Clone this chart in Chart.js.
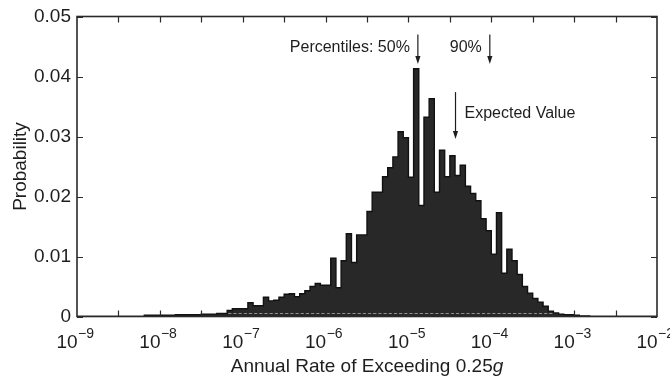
<!DOCTYPE html>
<html><head><meta charset="utf-8">
<script src="https://cdn.jsdelivr.net/npm/chart.js@4"></script>
<style>html,body{margin:0;padding:0;background:#fff}#wrap{width:670px;height:379px;position:relative}</style>
</head><body><div id="wrap"><canvas id="c" width="670" height="379"></canvas></div>
<script>
// ---- data ----
const binStartExp = -9;        // log10 of first bin's left edge
const binWidthExp = 0.0625;    // bin width in decades
const binEndExp = -2;
const probabilities = [
  0,0,0,0,0,0,0,0,0,0,0,0,0,0.0002,0.0002,0.0002,
  0.0002,0.0002,0.0002,0.0003,0.0003,0.0003,0.0003,0.0003,0.0004,0.0004,0.0004,0.0005,0.0005,0.001,0.0013,0.0013,
  0.0013,0.0023,0.0018,0.0018,0.0032,0.0026,0.0027,0.0032,0.0037,0.0038,0.0033,0.0038,0.0043,0.005,0.0055,0.0052,
  0.0052,0.0097,0.0048,0.0093,0.0138,0.009,0.0136,0.0136,0.0175,0.0207,0.0207,0.0233,0.0248,0.0266,0.0308,0.0298,
  0.0232,0.0413,0.0185,0.0332,0.0363,0.0207,0.0277,0.0233,0.0268,0.0235,0.0252,0.0217,0.0205,0.0193,0.0163,0.0143,
  0.0104,0.0173,0.0072,0.0112,0.0093,0.007,0.005,0.0039,0.003,0.0024,0.0017,0.0009,0.0006,0.0004,0.0003,0.0003,
  0.0002,0.0001,0.0001,0,0,0,0,0,0,0,0,0,0,0,0,0
];
const xTickExponents = [-9,-8,-7,-6,-5,-4,-3,-2];
const xTickMarkExponents = [-8.5,-8,-7.5,-7,-6.5,-6,-5.5,-5,-4.5,-4,-3.5,-3,-2.5];
const yTicks = [0,0.01,0.02,0.03,0.04,0.05];
const yTickLabels = ['0','0.01','0.02','0.03','0.04','0.05'];
const xTitle = 'Annual Rate of Exceeding 0.25';
const xTitleItalic = 'g';
const yTitle = 'Probability';
const percentileLabels = ['Percentiles: 50%','90%'];
const percentileValues = [1.3e-5, 9.6e-5];
const percentileArrowY = [0.047, 0.0421];
const expectedLabel = 'Expected Value';
const expectedValue = 3.7e-5;
const expectedArrowY = [0.0374, 0.0296];

// ---- build points ----
const points = probabilities.map((p,i)=>({x: Math.pow(10, binStartExp + i*binWidthExp), y: p}));
points.push({x: Math.pow(10, binEndExp), y: 0});

const FONT = '"Liberation Sans", Arial, Helvetica, sans-serif';
const INK = '#1e1e1e';

function arrow(ctx, x, yTop, yTip){
  ctx.save();
  ctx.strokeStyle = INK; ctx.fillStyle = INK; ctx.lineWidth = 1.2;
  ctx.beginPath(); ctx.moveTo(x, yTop); ctx.lineTo(x, yTip-5); ctx.stroke();
  ctx.beginPath(); ctx.moveTo(x-2.6, yTip-8); ctx.lineTo(x+2.6, yTip-8); ctx.lineTo(x, yTip); ctx.closePath(); ctx.fill();
  ctx.restore();
}

const decor = {
  id: 'decor',
  afterDatasetsDraw(chart){
    // light strip just above the baseline inside the filled histogram
    const ctx = chart.ctx, a = chart.chartArea;
    const xs = chart.scales.x;
    ctx.save();
    ctx.strokeStyle = 'rgba(170,170,170,0.8)'; ctx.lineWidth = 1.2;
    ctx.beginPath();
    probabilities.forEach((p,i)=>{
      if (p >= 0.0008) {
        const x1 = xs.getPixelForValue(Math.pow(10, binStartExp + i*binWidthExp));
        const x2 = xs.getPixelForValue(Math.pow(10, binStartExp + (i+1)*binWidthExp));
        ctx.moveTo(x1+1, a.bottom-3); ctx.lineTo(x2-1, a.bottom-3);
      }
    });
    ctx.stroke();
    ctx.restore();
  },
  afterDraw(chart){
    const ctx = chart.ctx, a = chart.chartArea;
    const xs = chart.scales.x, ys = chart.scales.y;
    ctx.save();
    // frame
    ctx.strokeStyle = '#2a2a2a'; ctx.lineWidth = 1.6;
    ctx.strokeRect(a.left, a.top, a.right-a.left, a.bottom-a.top);
    // ticks
    ctx.lineWidth = 1.2;
    ctx.beginPath();
    xTickMarkExponents.forEach(e=>{
      const px = Math.round(xs.getPixelForValue(Math.pow(10,e)))+0.5;
      ctx.moveTo(px, a.bottom); ctx.lineTo(px, a.bottom-6);
      ctx.moveTo(px, a.top); ctx.lineTo(px, a.top+6);
    });
    yTicks.forEach(v=>{
      const py = Math.round(ys.getPixelForValue(v))+0.5;
      ctx.moveTo(a.left, py); ctx.lineTo(a.left+6, py);
      ctx.moveTo(a.right, py); ctx.lineTo(a.right-6, py);
    });
    ctx.stroke();
    // y tick labels
    ctx.fillStyle = INK;
    ctx.font = '19px ' + FONT;
    ctx.textAlign = 'right'; ctx.textBaseline = 'middle';
    yTicks.forEach((v,i)=>{
      ctx.fillText(yTickLabels[i], a.left-6, ys.getPixelForValue(v));
    });
    // x tick labels with superscripts
    ctx.textBaseline = 'alphabetic'; ctx.textAlign = 'left';
    xTickExponents.forEach(e=>{
      const px = xs.getPixelForValue(Math.pow(10,e));
      ctx.font = '19px ' + FONT;
      const base = '10';
      const wb = ctx.measureText(base).width;
      ctx.font = '14px ' + FONT;
      const sup = '\u2212' + Math.abs(e);
      const ws = ctx.measureText(sup).width;
      const x0 = px - (wb+ws)/2 - 2;
      ctx.font = '19px ' + FONT;
      ctx.fillText(base, x0, a.bottom+31);
      ctx.font = '14px ' + FONT;
      ctx.fillText(sup, x0+wb+0.5, a.bottom+21);
    });
    // x title
    ctx.font = '19px ' + FONT;
    const w1 = ctx.measureText(xTitle).width;
    ctx.font = 'italic 19px ' + FONT;
    const w2 = ctx.measureText(xTitleItalic).width;
    const cx = (a.left+a.right)/2;
    const tx = cx - (w1+w2)/2;
    ctx.font = '19px ' + FONT;
    ctx.fillText(xTitle, tx, a.bottom+55);
    ctx.font = 'italic 19px ' + FONT;
    ctx.fillText(xTitleItalic, tx+w1, a.bottom+55);
    // y title
    ctx.save();
    ctx.translate(21, (a.top+a.bottom)/2);
    ctx.rotate(-Math.PI/2);
    ctx.font = '19px ' + FONT; ctx.textAlign = 'center'; ctx.textBaseline = 'middle';
    ctx.fillText(yTitle, 0, 0);
    ctx.restore();
    // annotations
    ctx.font = '16px ' + FONT; ctx.textBaseline = 'middle';
    percentileValues.forEach((v,i)=>{
      const px = xs.getPixelForValue(v);
      arrow(ctx, px, ys.getPixelForValue(percentileArrowY[0]), ys.getPixelForValue(percentileArrowY[1]));
      ctx.textAlign = 'right';
      ctx.fillText(percentileLabels[i], px-8, ys.getPixelForValue(0.0449));
    });
    const ex = xs.getPixelForValue(expectedValue);
    arrow(ctx, ex, ys.getPixelForValue(expectedArrowY[0]), ys.getPixelForValue(expectedArrowY[1]));
    ctx.textAlign = 'left';
    ctx.fillText(expectedLabel, ex+9, ys.getPixelForValue(0.0339));
    ctx.restore();
  }
};

new Chart(document.getElementById('c'), {
  type: 'line',
  data: { datasets: [{
    data: points,
    stepped: 'before',
    fill: 'origin',
    backgroundColor: '#282828',
    borderColor: '#111',
    borderWidth: 1.4,
    pointRadius: 0,
    tension: 0
  }]},
  options: {
    responsive: false,
    animation: false,
    devicePixelRatio: 1,
    layout: { padding: { left: 77, right: 13, top: 16.5, bottom: 62.5 } },
    plugins: { legend: { display: false }, tooltip: { enabled: false } },
    scales: {
      x: { type: 'logarithmic', display: false, min: 1e-9, max: 1e-2 },
      y: { type: 'linear', display: false, min: 0, max: 0.05 }
    }
  },
  plugins: [decor]
});
</script>
</body></html>
